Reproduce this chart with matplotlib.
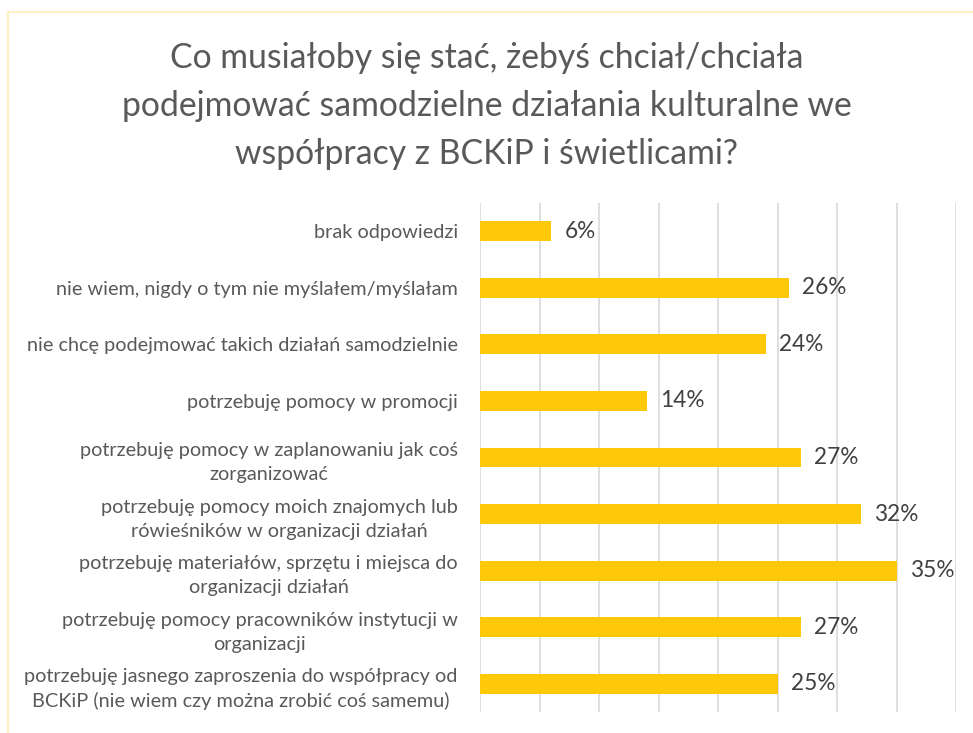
import numpy as np
import matplotlib.pyplot as plt
from matplotlib.patches import Rectangle

categories = [
    "brak odpowiedzi",
    "nie wiem, nigdy o tym nie myślałem/myślałam",
    "nie chcę podejmować takich działań samodzielnie",
    "potrzebuję pomocy w promocji",
    "potrzebuję pomocy w zaplanowaniu jak coś\nzorganizować",
    "potrzebuję pomocy moich znajomych lub\nrówieśników w organizacji działań",
    "potrzebuję materiałów, sprzętu i miejsca do\norganizacji działań",
    "potrzebuję pomocy pracowników instytucji w\norganizacji",
    "potrzebuję jasnego zaproszenia do współpracy od\nBCKiP (nie wiem czy można zrobić coś samemu)",
]
values = [0.06, 0.26, 0.24, 0.14, 0.27, 0.32, 0.35, 0.27, 0.25]
title = "Co musiałoby się stać, żebyś chciał/chciała\npodejmować samodzielne działania kulturalne we\nwspółpracy z BCKiP i świetlicami?"

plt.rcParams['font.family'] = ['Lato', 'DejaVu Sans']

fig = plt.figure(figsize=(9.73, 7.33), dpi=100)
fig.patches.append(Rectangle((8 / 973, -0.1), 1.2, 1 - 12 / 733 + 0.1,
                             transform=fig.transFigure, fill=False,
                             edgecolor='#FFF0C4', linewidth=1.5))

ax = fig.add_axes([480 / 973, 1 - 712 / 733, (956 - 480) / 973, (712 - 203) / 733])
y = np.arange(len(categories))
ax.barh(y, values, height=0.35, color='#FFC90A')
ax.set_ylim(len(categories) - 0.5, -0.5)
ax.set_xlim(0, 0.40)
ax.set_xticks(np.arange(0, 0.401, 0.05))
ax.set_xticklabels([])
ax.tick_params(axis='both', length=0)
ax.grid(axis='x', color='#D9D9D9', linewidth=1.2)
ax.set_axisbelow(True)
for s in ax.spines.values():
    s.set_visible(False)
ax.set_yticks(y)
ax.set_yticklabels(categories, fontsize=14.3, color='#595959', linespacing=1.5)
ax.tick_params(axis='y', pad=16)
for lbl in ax.get_yticklabels():
    lbl.set_horizontalalignment('right')
    lbl.set_multialignment('center')

for yi, v in zip(y, values):
    ax.text(v + 0.011, yi, f"{round(v * 100)}%", va='center', ha='left',
            fontsize=16.3, color='#404040')

fig.text(0.5, 1 - 106 / 733, title, ha='center', va='center', fontsize=24.3,
         color='#595959', linespacing=1.6)

fig.savefig('out.png', dpi=100)
